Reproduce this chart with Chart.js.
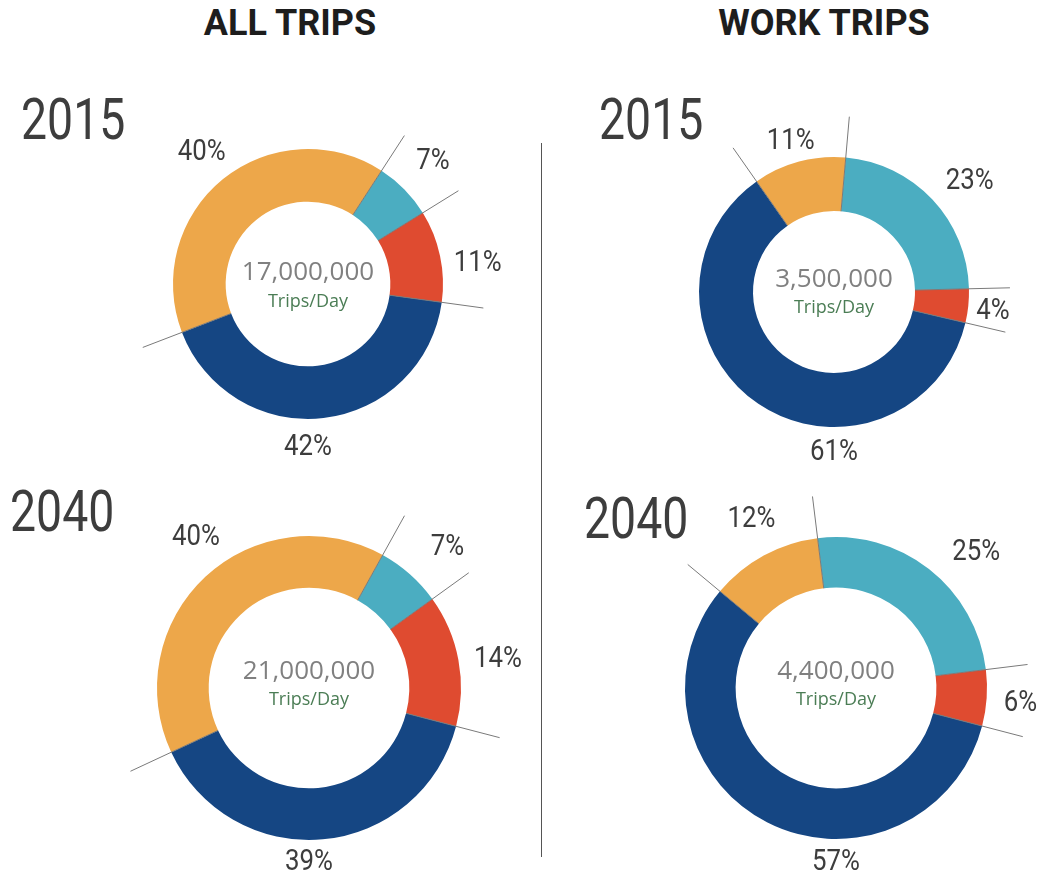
<!DOCTYPE html>
<html>
<head>
<meta charset="utf-8">
<script src="https://cdn.jsdelivr.net/npm/chart.js@4.4.1/dist/chart.umd.min.js"></script>
<style>
    html, body { margin: 0; padding: 0; background: #fff; overflow: hidden; }
    body { width: 1047px; height: 878px; position: relative; font-family: Roboto, sans-serif; }
    .title { position: absolute; top: 5px; font-weight: 700; font-size: 36px; line-height: 1; color: #1d1d1d; white-space: nowrap; transform: translateX(-50%); }
    .year { position: absolute; font-family: Roboto, sans-serif; font-size: 58px; line-height: 1; color: #3d3d3d; transform: scaleX(0.8); transform-origin: 0 0; }
    .divider { position: absolute; left: 541px; top: 143px; width: 1px; height: 714px; background: #555; }
    canvas { position: absolute; }
</style>
</head>
<body>

<div class="title" style="left:290px">ALL TRIPS</div>
<div class="title" style="left:824px">WORK TRIPS</div>
<div class="divider"></div>

<div class="year" style="left:21px;top:90px">2015</div>
<div class="year" style="left:599px;top:90px">2015</div>
<div class="year" style="left:10px;top:482px">2040</div>
<div class="year" style="left:584px;top:489px">2040</div>

<canvas id="allTrips2015" width="480" height="440"></canvas>
<canvas id="workTrips2015" width="480" height="440"></canvas>
<canvas id="allTrips2040" width="480" height="440"></canvas>
<canvas id="workTrips2040" width="480" height="440"></canvas>

<script>
// --- DATA (share of trips, %) ---
const categories = ['Mode A', 'Mode B', 'Mode C', 'Mode D'];
const allTrips2015 = [7, 11, 42, 40];
const allTrips2040 = [7, 14, 39, 40];
const workTrips2015 = [23, 4, 61, 11];
const workTrips2040 = [25, 6, 57, 12];
const dailyTotals = ['17,000,000', '3,500,000', '21,000,000', '4,400,000'];
const totalUnit = 'Trips/Day';

const segmentColors = ['#4BADC1', '#DF4B30', '#154683', '#EDA74A'];
const labelFont = '30px Roboto, sans-serif';
const labelSquash = 0.86; // reference uses a condensed face

// layout for each ring; nudge = degrees added to a slice's mid angle for its label,
// gap = label distance beyond the ring. The biggest slice (index 2) is labelled underneath.
const panels = [
    { id: 'allTrips2015',  data: allTrips2015,  total: dailyTotals[0], cx: 308, cy: 284, r: 135, cutout: '61%', rotation: 33, lineOut: 42,
      nudge: [0, 5, 0, 0], gap: [40, 36, 28, 34], numDy: -11, unitDy: 18 },
    { id: 'workTrips2015', data: workTrips2015, total: dailyTotals[1], cx: 834, cy: 292, r: 135, cutout: '60%', rotation: 5,  lineOut: 41,
      nudge: [4, 1, 0, -1], gap: [40, 25, 25, 22], numDy: -12, unitDy: 16 },
    { id: 'allTrips2040',  data: allTrips2040,  total: dailyTotals[2], cx: 309, cy: 688, r: 152, cutout: '66%', rotation: 29, lineOut: 45,
      nudge: [3, 2, 0, 6], gap: [45, 39, 22, 36], numDy: -16, unitDy: 12 },
    { id: 'workTrips2040', data: workTrips2040, total: dailyTotals[3], cx: 836, cy: 688, r: 151, cutout: '66.5%', rotation: -7, lineOut: 42,
      nudge: [8, 1, 0, 2], gap: [44, 34, 23, 38], numDy: -16, unitDy: 12 }
];

// leader lines along each slice boundary, % labels and the centre total
const ringDecor = {
    id: 'ringDecor',
    afterDatasetsDraw(chart, args, opts) {
        const ctx = chart.ctx;
        const arcs = chart.getDatasetMeta(0).data;
        const values = chart.data.datasets[0].data;

        ctx.save();
        ctx.strokeStyle = '#7a7a7a';
        ctx.lineWidth = 1;
        arcs.forEach(a => {
            const ang = a.startAngle;
            ctx.beginPath();
            ctx.moveTo(a.x + Math.cos(ang) * a.innerRadius, a.y + Math.sin(ang) * a.innerRadius);
            ctx.lineTo(a.x + Math.cos(ang) * (a.outerRadius + opts.lineOut), a.y + Math.sin(ang) * (a.outerRadius + opts.lineOut));
            ctx.stroke();
        });

        ctx.fillStyle = '#3d3d3d';
        ctx.font = labelFont;
        ctx.textAlign = 'center';
        ctx.textBaseline = 'middle';
        arcs.forEach((a, i) => {
            let ang = (a.startAngle + a.endAngle) / 2 + opts.nudge[i] * Math.PI / 180;
            if (i === 2) ang = Math.PI / 2;
            const rad = a.outerRadius + opts.gap[i];
            const x = a.x + Math.cos(ang) * rad;
            const y = a.y + Math.sin(ang) * rad;
            ctx.save();
            ctx.translate(x, y);
            ctx.scale(labelSquash, 1);
            ctx.fillText(values[i] + '%', 0, 0);
            ctx.restore();
        });

        const cx = arcs[0].x, cy = arcs[0].y;
        ctx.fillStyle = '#808080';
        ctx.font = '26px "Open Sans", sans-serif';
        ctx.fillText(opts.total, cx, cy + opts.numDy);
        ctx.fillStyle = '#4b7d55';
        ctx.font = '18px "Open Sans", sans-serif';
        ctx.fillText(totalUnit, cx, cy + opts.unitDy);
        ctx.restore();
    }
};

panels.forEach(p => {
    const el = document.getElementById(p.id);
    el.style.left = (p.cx - el.width / 2) + 'px';
    el.style.top = (p.cy - el.height / 2) + 'px';

    new Chart(el, {
        type: 'doughnut',
        data: {
            labels: categories,
            datasets: [{
                data: p.data,
                backgroundColor: segmentColors,
                borderWidth: 0,
                hoverOffset: 0,
                offset: 0
            }]
        },
        options: {
            responsive: false,
            animation: false,
            radius: p.r,
            cutout: p.cutout,
            rotation: p.rotation,
            layout: { padding: 0 },
            events: [],
            plugins: {
                legend: { display: false },
                tooltip: { enabled: false },
                ringDecor: { lineOut: p.lineOut, nudge: p.nudge, gap: p.gap, total: p.total, numDy: p.numDy, unitDy: p.unitDy }
            }
        },
        plugins: [ringDecor]
    });
});
</script>
</body>
</html>
